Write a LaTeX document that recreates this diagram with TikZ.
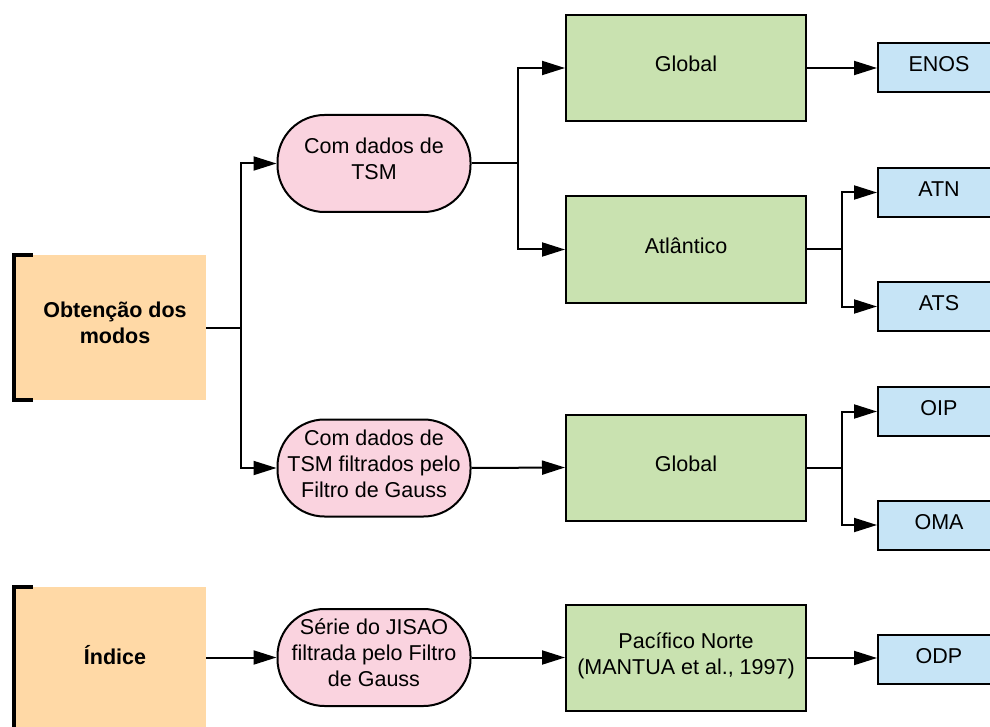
\documentclass[tikz,border=0pt]{standalone}
\usepackage{fontspec}
\setmainfont{Liberation Sans}
\usetikzlibrary{arrows.meta}
\definecolor{orfill}{HTML}{FFD9A6}
\definecolor{pkfill}{HTML}{FAD3DF}
\definecolor{grfill}{HTML}{C9E2B0}
\definecolor{blfill}{HTML}{C6E4F6}
\tikzset{
  base/.style={font=\fontsize{21.5}{26}\selectfont, align=center, inner sep=0pt,
    execute at begin node={\rule{0pt}{17pt}}, execute at end node={\rule[-9pt]{0pt}{0pt}}},
  orbox/.style={base, minimum width=182pt, minimum height=145pt, font=\fontsize{21.5}{26}\selectfont\bfseries},
  pkbox/.style={base, draw=black, line width=2pt, fill=pkfill, rounded corners=47pt, minimum width=193pt, minimum height=97pt},
  grbox/.style={base, draw=black, line width=2pt, fill=grfill, minimum width=240pt, minimum height=106pt},
  blbox/.style={base, draw=black, line width=2pt, fill=blfill, minimum width=122pt, minimum height=49pt},
  conn/.style={line width=2pt, draw=black},
  arr/.style={conn, -{Triangle[length=23pt,width=14pt]}},
  bracketline/.style={line width=4pt, draw=black}
}
\begin{document}
\begin{tikzpicture}[x=1pt,y=-1pt]
\useasboundingbox (0,0) rectangle (990,727);
\clip (0,0) rectangle (990,727);
\fill[white] (0,0) rectangle (990,727);

% orange areas
\fill[orfill] (16,255) rectangle (206,400);
\fill[orfill] (16,587) rectangle (206,732);
\node[orbox] (o1) at (115,327.5) {Obtenção dos\\modos};
\node[orbox] (o2) at (115,659.5) {Índice};
\draw[bracketline] ([xshift=9pt]o1.north west) -- ([xshift=-10pt]o1.north west) -- ([xshift=-10pt]o1.south west) -- ([xshift=9pt]o1.south west);
\draw[bracketline] ([xshift=9pt]o2.north west) -- ([xshift=-10pt]o2.north west) -- ([xshift=-10pt]o2.south west);

% pink boxes
\node[pkbox] (p1) at (374,163.5) {Com dados de\\TSM};
\node[pkbox] (p2) at (374,468) {Com dados de\\TSM filtrados pelo\\Filtro de Gauss};
\node[pkbox] (p3) at (374,657.5) {Série do JISAO\\filtrada pelo Filtro\\de Gauss};

% green boxes
\node[grbox] (g1) at (686,68) {Global};
\node[grbox] (g2) at (686,249.5) {Atlântico};
\node[grbox] (g3) at (686,467.5) {Global};
\node[grbox] (g4) at (686,658) {Pacífico Norte\\(MANTUA et al., 1997)};

% blue boxes
\node[blbox] (b1) at (939,67.5) {ENOS};
\node[blbox] (b2) at (939,192.5) {ATN};
\node[blbox] (b3) at (939,306.5) {ATS};
\node[blbox] (b4) at (939,411.5) {OIP};
\node[blbox] (b5) at (939,525) {OMA};
\node[blbox] (b6) at (939,659) {ODP};

% junctions
\coordinate (j1) at (241,327.5);
\coordinate (j2) at (518,163.5);
\coordinate (j3) at (842,249.5);
\coordinate (j4) at (842,467.5);

\draw[conn] (o1.east) -- (j1);
\draw[arr] (j1) |- (p1.west);
\draw[arr] (j1) |- (p2.west);

\draw[conn] (p1.east) -- (j2);
\draw[arr] (j2) |- (g1.west);
\draw[arr] (j2) |- (g2.west);

\draw[arr] (p2.east) -- (g3.west);
\draw[arr] (o2.east |- p3.west) -- (p3.west);
\draw[arr] (p3.east) -- (p3.east -| g4.west);

\draw[arr] (g1.east) -- (g1.east -| b1.west);
\draw[conn] (g2.east) -- (j3);
\draw[arr] (j3) |- (b2.west);
\draw[arr] (j3) |- (b3.west);
\draw[conn] (g3.east) -- (j4);
\draw[arr] (j4) |- (b4.west);
\draw[arr] (j4) |- (b5.west);
\draw[arr] (g4.east) -- (g4.east -| b6.west);
\end{tikzpicture}
\end{document}
